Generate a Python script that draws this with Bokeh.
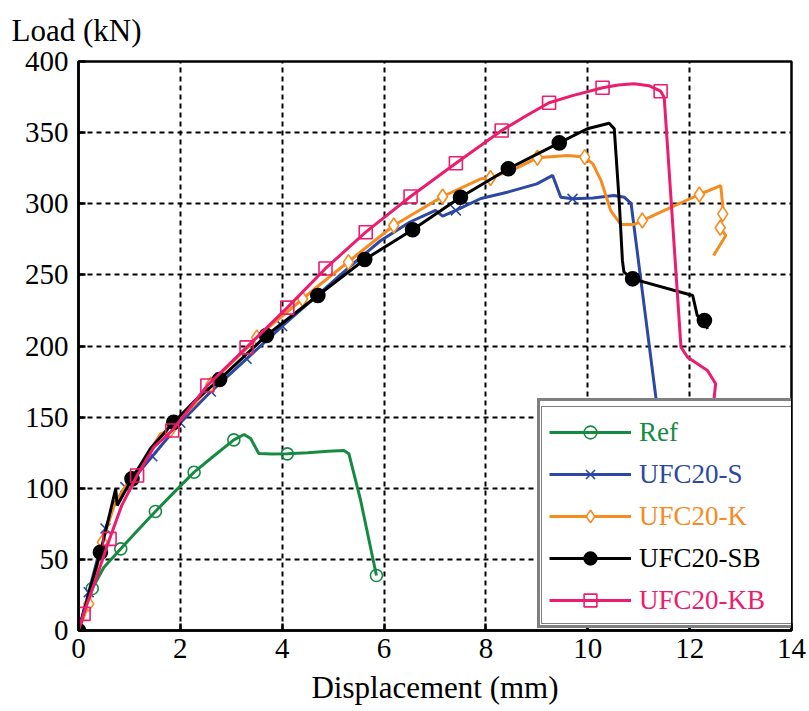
from bokeh.plotting import figure
from bokeh.models import Range1d, Legend, LegendItem, FixedTicker
from bokeh.embed import file_html
from bokeh.resources import INLINE

# ---------------- data ----------------
x_ticks = [0, 2, 4, 6, 8, 10, 12, 14]
y_ticks = [0, 50, 100, 150, 200, 250, 300, 350, 400]

labels = ["Ref", "UFC20-S", "UFC20-K", "UFC20-SB", "UFC20-KB"]

ref_x = [0, 0.27, 0.5, 0.83, 1.15, 1.51, 1.9, 2.27, 2.65, 3.05, 3.25, 3.38, 3.54, 3.8, 4.10, 4.5, 4.9, 5.21, 5.31, 5.54, 5.85]
ref_y = [0, 29.5, 44.5, 57.4, 70, 83.7, 98, 111.3, 122.5, 134, 137.8, 135, 124.4, 124, 124.2, 125, 126, 126.5, 124.2, 91.4, 38.7]
ref_mx = [0.27, 0.83, 1.51, 2.27, 3.05, 4.10, 5.85]
ref_my = [29.5, 57.4, 83.7, 111.3, 134, 124.2, 38.7]

s_x = [0, 0.2, 0.53, 0.72, 0.92, 1.2, 1.45, 2.0, 2.6, 3.3, 4.0, 4.7, 5.3, 5.93, 6.5, 7.01, 7.15, 7.41, 7.9, 8.42, 9.0, 9.31, 9.47, 9.70, 10.1, 10.51, 10.72, 10.85, 11.34, 11.8]
s_y = [0, 26.9, 71.7, 90, 100.8, 112, 122.5, 146, 168, 191, 214, 236, 255, 274, 287, 295.3, 291.3, 295.3, 303.7, 308.1, 314, 319.9, 304.6, 303.5, 304, 305.8, 304.5, 300.2, 163, 70]
s_mx = [0, 0.2, 0.53, 0.92, 1.45, 2.0, 2.6, 3.3, 4.0, 7.41, 9.70]
s_my = [0, 26.9, 71.7, 100.8, 122.5, 146, 168, 191, 214, 295.3, 303.5]

k_x = [0, 0.2, 0.47, 0.7, 1.0, 1.25, 1.61, 1.81, 2.3, 2.8, 3.7, 4.7, 5.5, 6.19, 7.15, 7.9, 8.09, 8.6, 9.01, 9.6, 9.94, 10.1, 10.26, 10.45, 10.65, 10.91, 11.07, 11.6, 12.19, 12.61, 12.65, 12.65, 12.60, 12.71, 12.47]
k_y = [0, 18.7, 62, 88, 106, 117.2, 138.3, 141.2, 160, 181, 212, 242, 265, 284.7, 305.1, 317.5, 318.1, 325, 332.3, 333.9, 332.8, 328, 316.3, 295.2, 285.4, 285.4, 288.2, 297, 306.5, 312.8, 298.8, 292.9, 283.1, 277.7, 263.6]
k_mx = [0.2, 0.47, 1.81, 2.6, 3.5, 4.4, 5.3, 6.19, 7.15, 8.09, 9.01, 9.94, 11.07, 12.19, 12.65, 12.60]
k_my = [18.7, 62, 141.2, 173, 206, 233, 259, 284.7, 305.1, 318.1, 332.3, 332.8, 288.2, 306.5, 292.9, 283.1]

sb_x = [0, 0.43, 0.6, 0.73, 0.76, 0.9, 1.05, 1.41, 1.87, 2.3, 2.77, 3.69, 4.70, 5.62, 6.56, 7.50, 8.44, 9.44, 9.99, 10.42, 10.52, 10.62, 10.68, 10.71, 10.88, 12.06, 12.15, 12.29, 12.35]
sb_y = [0, 55, 80, 99.6, 87.9, 97, 106.6, 127.7, 146.4, 162, 176.5, 207.4, 235.5, 260.8, 281.7, 304.6, 324.6, 342.8, 352.7, 356.6, 352.7, 300, 260, 251.9, 247.2, 235.5, 221.4, 217.9, 212]
sb_mx = [0, 0.43, 1.05, 1.87, 2.77, 3.69, 4.70, 5.62, 6.56, 7.50, 8.44, 9.44, 10.88, 12.29]
sb_my = [0, 55, 106.6, 146.4, 176.5, 207.4, 235.5, 260.8, 281.7, 304.6, 324.6, 342.8, 247.2, 217.9]

kb_x = [0, 0.1, 0.33, 0.61, 0.85, 1.15, 1.48, 1.84, 2.53, 3.3, 4.1, 4.85, 5.64, 6.52, 7.41, 8.31, 8.8, 9.24, 9.7, 10.29, 10.6, 10.91, 11.2, 11.43, 11.50, 11.83, 11.96, 12.35, 12.51, 12.48, 12.4]
kb_y = [0, 11.7, 35, 64.4, 88, 109, 128.9, 140.6, 172.2, 199, 227, 254.5, 280, 305.1, 328.5, 351.5, 362, 371, 376, 381.5, 383.5, 384.3, 383, 379.1, 374.9, 199.2, 192.1, 182.8, 173.4, 162.9, 120]
kb_mx = [0.1, 0.61, 1.15, 1.84, 2.53, 3.3, 4.1, 4.85, 5.64, 6.52, 7.41, 8.31, 9.24, 10.29, 11.43]
kb_my = [11.7, 64.4, 109, 140.6, 172.2, 199, 227, 254.5, 280, 305.1, 328.5, 351.5, 371, 381.5, 379.1]

y_title = "Load (kN)"
x_title = "Displacement (mm)"

# ---------------- styles ----------------
colors = ["#178a42", "#2c48a2", "#f68b1f", "#000000", "#ec1c6e"]
markers = ["circle", "x", "diamond", "circle", "square"]
msizes = [12, 14, 15, 14, 13]
mfill = [None, None, "white", "#000000", None]

series = [
    (ref_x, ref_y, ref_mx, ref_my),
    (s_x, s_y, s_mx, s_my),
    (k_x, k_y, k_mx, k_my),
    (sb_x, sb_y, sb_mx, sb_my),
    (kb_x, kb_y, kb_mx, kb_my),
]

FONT = "Liberation Serif"

p = figure(width=809, height=711, output_backend="svg", toolbar_location=None,
           x_range=Range1d(0, 14), y_range=Range1d(0, 400),
           min_border_left=78, min_border_right=18, min_border_top=61, min_border_bottom=81)

p.background_fill_color = "white"
p.border_fill_color = "white"
p.outline_line_color = "black"
p.outline_line_width = 2.5

# y-axis title above the frame at the top-left
p.title.text = y_title
p.title.align = "left"
p.title.vertical_align = "top"
p.title.offset = -67
p.title.text_font = FONT
p.title.text_font_size = "31px"
p.title.text_font_style = "normal"
p.title.text_color = "black"
p.title.standoff = 23

for ax in (p.xaxis[0], p.yaxis[0]):
    ax.major_label_text_font = FONT
    ax.major_label_text_font_size = "29px"
    ax.major_label_text_color = "black"
    ax.axis_line_width = 2.5
    ax.axis_line_color = "black"
    ax.major_tick_in = 7
    ax.major_tick_out = 0
    ax.major_tick_line_width = 2.5
    ax.minor_tick_line_color = None
    ax.axis_label_text_font = FONT
    ax.axis_label_text_font_size = "31px"
    ax.axis_label_text_font_style = "normal"
    ax.axis_label_text_color = "black"

p.xaxis.ticker = FixedTicker(ticks=x_ticks)
p.yaxis.ticker = FixedTicker(ticks=y_ticks)
p.xaxis.axis_label = x_title
p.xaxis.major_label_standoff = 8
p.xaxis.axis_label_standoff = 9
p.yaxis.major_label_standoff = 10

for g in (p.xgrid[0], p.ygrid[0]):
    g.grid_line_color = "black"
    g.grid_line_width = 2
    g.grid_line_dash = "5 4"
p.xgrid.ticker = FixedTicker(ticks=x_ticks)
p.ygrid.ticker = FixedTicker(ticks=y_ticks)

real = []
dummies = []
for i, (xs, ys, mx, my) in enumerate(series):
    c = colors[i]
    ln = p.line(xs, ys, line_color=c, line_width=3)
    sc = p.scatter(mx, my, marker=markers[i], size=msizes[i], line_color=c,
                   line_width=1.6, fill_color=mfill[i],
                   fill_alpha=1 if mfill[i] else 0)
    real.append([ln, sc])
    dummies.append(p.line(x=[], y=[], line_alpha=0))

# legend geometry (screen px from frame bottom-left)
PAD = 12
ITEM_H = 32
SPACING = 10
LX = 459
LY = 2
BOX_GLYPH_W = 211

def base_legend(items, pad, loc, gw):
    return Legend(items=items, location=loc, padding=pad, spacing=SPACING,
                  glyph_height=ITEM_H, label_height=ITEM_H, glyph_width=gw,
                  label_standoff=8, margin=0,
                  label_text_font=FONT, label_text_font_size="27px")

# outer box (no visible text)
outer = base_legend([LegendItem(label=" ", renderers=[dummies[i]]) for i in range(5)],
                    PAD, (LX, LY), BOX_GLYPH_W)
outer.border_line_color = "black"
outer.border_line_width = 3
outer.background_fill_color = "white"
outer.background_fill_alpha = 1
p.add_layout(outer, "center")

# inner thin box
inner = base_legend([LegendItem(label=" ", renderers=[dummies[i]]) for i in range(5)],
                    PAD - 4, (LX + 4, LY + 4), BOX_GLYPH_W)
inner.border_line_color = "black"
inner.border_line_width = 1.3
inner.background_fill_alpha = 0
p.add_layout(inner, "center")

# per item legends with coloured labels
for i in range(5):
    lg = base_legend([LegendItem(label=labels[i], renderers=real[i])], PAD,
                     (LX, LY + (4 - i) * (ITEM_H + SPACING)), 82)
    lg.label_text_color = colors[i]
    lg.border_line_alpha = 0
    lg.background_fill_alpha = 0
    p.add_layout(lg, "center")

open("out.html", "w").write(file_html(p, INLINE))
